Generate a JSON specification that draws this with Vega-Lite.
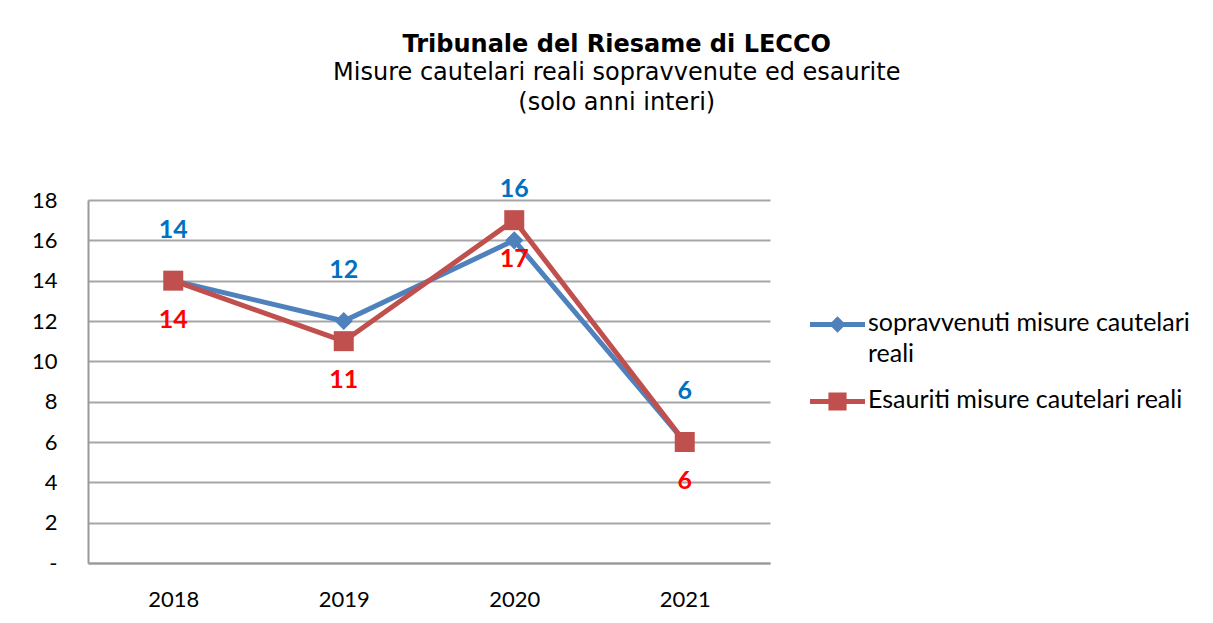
{
  "$schema": "https://vega.github.io/schema/vega-lite/v6.json",
  "width": 682,
  "height": 363,
  "autosize": {"type": "none"},
  "padding": {"left": 88, "top": 200, "right": 443, "bottom": 60},
  "background": "white",
  "title": {
    "text": "Tribunale del Riesame di LECCO",
    "subtitle": ["Misure cautelari reali sopravvenute ed esaurite", "(solo anni interi)"],
    "anchor": "middle",
    "frame": "bounds",
    "dx": 6,
    "font": "DejaVu Sans",
    "fontSize": 24,
    "fontWeight": "bold",
    "color": "black",
    "subtitleFont": "DejaVu Sans",
    "subtitleFontSize": 24,
    "subtitleColor": "black",
    "subtitleLineHeight": 30,
    "subtitlePadding": 4,
    "offset": 62
  },
  "config": {
    "view": {"stroke": null},
    "axis": {
      "labelFont": "Lato",
      "labelFontSize": 22,
      "labelColor": "black",
      "ticks": false,
      "domainColor": "#9a9a9a",
      "domainWidth": 2,
      "gridColor": "#a6a6a6",
      "gridWidth": 2,
      "title": null
    },
    "legend": {
      "labelFont": "Lato",
      "labelFontSize": 25,
      "labelColor": "black",
      "labelLimit": 400
    }
  },
  "data": {
    "values": [
      {"anno": "2018", "serie": "sopravvenuti misure cautelari reali", "valore": 14},
      {"anno": "2019", "serie": "sopravvenuti misure cautelari reali", "valore": 12},
      {"anno": "2020", "serie": "sopravvenuti misure cautelari reali", "valore": 16},
      {"anno": "2021", "serie": "sopravvenuti misure cautelari reali", "valore": 6},
      {"anno": "2018", "serie": "Esauriti misure cautelari reali", "valore": 14},
      {"anno": "2019", "serie": "Esauriti misure cautelari reali", "valore": 11},
      {"anno": "2020", "serie": "Esauriti misure cautelari reali", "valore": 17},
      {"anno": "2021", "serie": "Esauriti misure cautelari reali", "valore": 6}
    ]
  },
  "encoding": {
    "x": {
      "field": "anno",
      "type": "ordinal",
      "scale": {"type": "point", "padding": 0.5},
      "axis": {"labelAngle": 0, "labelPadding": 26, "domain": true, "grid": false}
    },
    "y": {
      "field": "valore",
      "type": "quantitative",
      "scale": {"domain": [0, 18], "nice": false},
      "axis": {
        "values": [0, 2, 4, 6, 8, 10, 12, 14, 16, 18],
        "labelExpr": "datum.value == 0 ? '-' : datum.label",
        "labelPadding": 31,
        "grid": true,
        "domain": true
      }
    }
  },
  "layer": [
    {
      "mark": {"type": "line", "strokeWidth": 5},
      "encoding": {
        "color": {
          "field": "serie",
          "type": "nominal",
          "sort": ["sopravvenuti misure cautelari reali", "Esauriti misure cautelari reali"],
          "scale": {
            "domain": ["sopravvenuti misure cautelari reali", "Esauriti misure cautelari reali"],
            "range": ["#4F81BD", "#C0504D"]
          },
          "legend": {
            "title": null,
            "orient": "none",
            "legendX": 722,
            "legendY": 97,
            "symbolSize": 3025,
            "symbolType": "M-1,-0.09L1,-0.09L1,0.09L-1,0.09Z",
            "labelOffset": 3,
            "rowPadding": 7,
            "labelBaseline": "top",
            "labelExpr": "datum.label == 'sopravvenuti misure cautelari reali' ? ['sopravvenuti misure cautelari', 'reali'] : datum.label",
            "encode": {
              "labels": {"update": {"lineHeight": {"value": 31}, "dy": {"value": -14}}},
              "symbols": {
                "update": {
                  "shape": {"signal": "datum.value == 'sopravvenuti misure cautelari reali' ? 'M-1,-0.09L1,-0.09L1,0.09L-1,0.09Z M0,-0.3L0.3,0L0,0.3L-0.3,0Z' : 'M-1,-0.09L1,-0.09L1,0.09L-1,0.09Z M-0.33,-0.33L0.33,-0.33L0.33,0.33L-0.33,0.33Z'"},
                  "fill": {"scale": "color", "field": "value"},
                  "strokeWidth": {"value": 0},
                  "opacity": {"value": 1}
                }
              }
            }
          }
        }
      }
    },
    {
      "mark": {"type": "point", "filled": true, "opacity": 1},
      "encoding": {
        "color": {"field": "serie", "type": "nominal", "legend": null},
        "shape": {
          "field": "serie",
          "type": "nominal",
          "scale": {
            "domain": ["sopravvenuti misure cautelari reali", "Esauriti misure cautelari reali"],
            "range": ["diamond", "square"]
          },
          "legend": null
        },
        "size": {
          "field": "serie",
          "type": "nominal",
          "scale": {
            "domain": ["sopravvenuti misure cautelari reali", "Esauriti misure cautelari reali"],
            "range": [330, 400]
          },
          "legend": null
        }
      }
    },
    {
      "transform": [{"filter": "datum.serie == 'sopravvenuti misure cautelari reali'"}],
      "mark": {"type": "text", "font": "Lato", "fontSize": 25, "fontWeight": "bold", "color": "#0070C0", "dy": -51},
      "encoding": {"text": {"field": "valore", "type": "quantitative"}}
    },
    {
      "transform": [{"filter": "datum.serie == 'Esauriti misure cautelari reali'"}],
      "mark": {"type": "text", "font": "Lato", "fontSize": 25, "fontWeight": "bold", "color": "#FF0000", "dy": 39},
      "encoding": {"text": {"field": "valore", "type": "quantitative"}}
    }
  ],
  "resolve": {"legend": {"color": "independent"}}
}
